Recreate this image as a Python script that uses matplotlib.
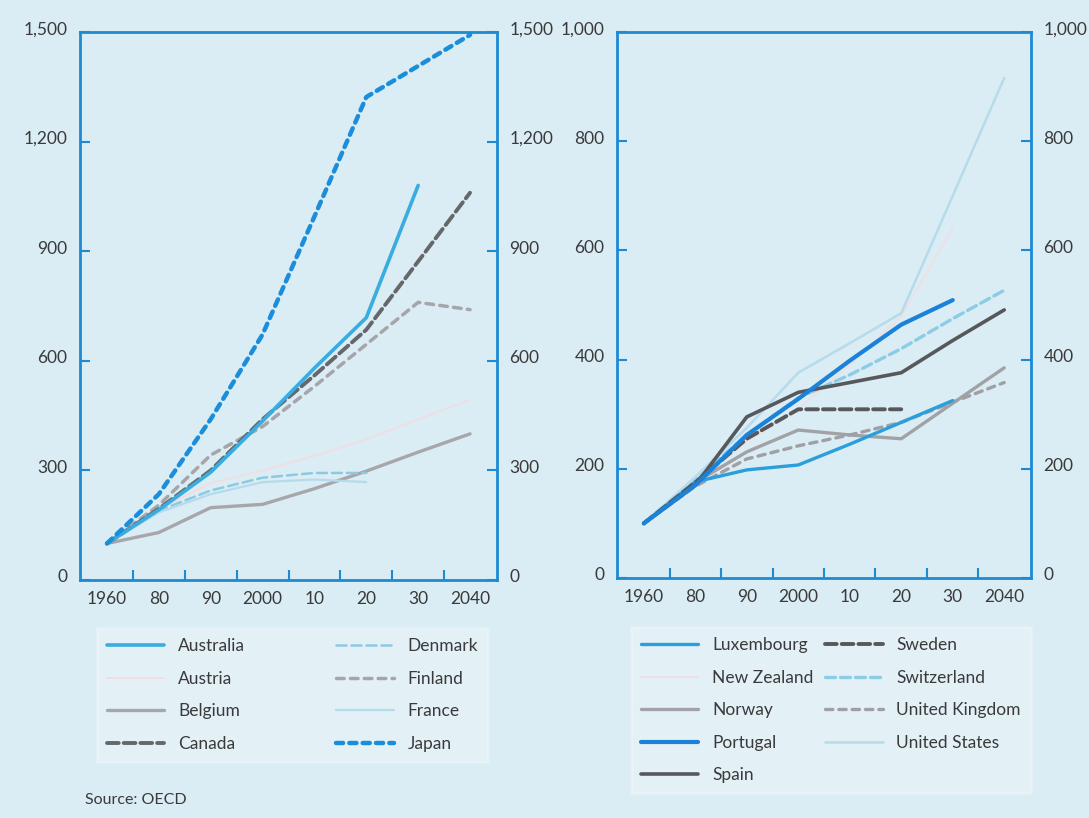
import matplotlib
matplotlib.use("Agg")
import matplotlib.pyplot as plt
import matplotlib.transforms as mtransforms
import numpy as np

plt.rcParams['font.family'] = ['Lato', 'DejaVu Sans']

# x categories (same for both panels)
years = ['1960', '80', '90', '2000', '10', '20', '30', '2040']

# left panel
australia = [100, 192, 295, 435, 580, 718, 1080]
austria = [100, 195, 265, 300, 340, 385, 440, 493]
belgium = [100, 130, 198, 207, 250, 298, 350, 400]
canada = [100, 195, 300, 440, 560, 685, 872, 1060]
denmark = [100, 190, 245, 280, 293, 293]
finland = [100, 205, 342, 420, 530, 645, 760, 740]
france = [100, 185, 235, 268, 275, 268]
japan = [100, 235, 440, 672, 995, 1322, 1407, 1492]

# right panel
luxembourg = [100, 176, 198, 207, 245, 285, 325]
new_zealand = [100, 175, 250, 310, 390, 480, 640]
norway = [100, 175, 231, 271, 262, 255, 320, 385]
portugal = [100, 170, 262, 328, 398, 464, 509]
spain = [100, 170, 295, 340, 358, 376, 435, 491]
sweden = [100, 175, 255, 309, 309, 309]
switzerland = [100, 180, 262, 330, 372, 420, 475, 527]
united_kingdom = [100, 168, 218, 242, 262, 285, 322, 358]
united_states = [100, 185, 275, 376, 430, 485, 700, 916]

left_ticks = [0, 300, 600, 900, 1200, 1500]
right_ticks = [0, 200, 400, 600, 800, 1000]

BG = '#daecf4'
SPINE = '#1d8ad2'
TXT = '#3a3a3a'
FS = 12.5

fig = plt.figure(figsize=(10.89, 8.18), dpi=100, facecolor=BG)


def style_axes(ax, ticks, top):
    ax.set_facecolor(BG)
    ax.set_xlim(-0.52, 7.52)
    ax.set_ylim(0, top)
    for s in ax.spines.values():
        s.set_color(SPINE)
        s.set_linewidth(2)
    ax.set_xticks(range(len(years)))
    ax.set_xticklabels(years)
    ax.set_xticks(np.arange(0.5, 7, 1), minor=True)
    ax.tick_params(axis='x', which='major', length=0, pad=8, labelsize=FS, labelcolor=TXT)
    ax.tick_params(axis='x', which='minor', direction='in', length=7, width=1.5, color=SPINE)
    ax.set_yticks(ticks)
    ax.set_yticklabels([f"{t:,}" for t in ticks])
    ax.tick_params(axis='y', which='major', direction='in', length=7, width=1.5, color=SPINE,
                   left=True, right=True, labelleft=True, labelright=True,
                   pad=9, labelsize=FS, labelcolor=TXT)
    # labels sit a little above their ticks in the original
    off = mtransforms.ScaledTranslation(0, 3 / 72, fig.dpi_scale_trans)
    for t in ax.yaxis.get_major_ticks():
        t.label1.set_transform(t.label1.get_transform() + off)
        t.label2.set_transform(t.label2.get_transform() + off)


def draw(ax, vals, label, color, lw, dashes=None, z=2):
    x = np.arange(len(vals))
    line, = ax.plot(x, vals, color=color, lw=lw, label=label, zorder=z,
                    solid_capstyle='round', dash_capstyle='round')
    if dashes:
        line.set_dashes(dashes)
    return line


ax1 = fig.add_axes([80 / 1089, 1 - 580 / 818, 417 / 1089, 548 / 818])
style_axes(ax1, left_ticks, 1500)
draw(ax1, australia, 'Australia', '#39ace0', 2.6, z=4)
draw(ax1, austria, 'Austria', '#f1dde3', 1.4)
draw(ax1, belgium, 'Belgium', '#a7a7ab', 2.4)
draw(ax1, canada, 'Canada', '#66676b', 2.8, dashes=(3, 1.3), z=3)
draw(ax1, denmark, 'Denmark', '#8dcae2', 1.8, dashes=(4, 2))
draw(ax1, finland, 'Finland', '#a6a6aa', 2.5, dashes=(2.2, 1.8))
draw(ax1, france, 'France', '#b4dbec', 1.6)
draw(ax1, japan, 'Japan', '#1b8edb', 3.2, dashes=(1.6, 1.4), z=5)

ax2 = fig.add_axes([617 / 1089, 1 - 578 / 818, 414 / 1089, 546 / 818])
style_axes(ax2, right_ticks, 1000)
draw(ax2, luxembourg, 'Luxembourg', '#2b9edc', 2.4, z=3)
draw(ax2, new_zealand, 'New Zealand', '#eee0e4', 1.4)
draw(ax2, norway, 'Norway', '#a2a2a6', 2.4)
draw(ax2, portugal, 'Portugal', '#1a82d8', 3.0, z=5)
draw(ax2, spain, 'Spain', '#57585c', 2.6, z=4)
draw(ax2, sweden, 'Sweden', '#57585c', 2.8, dashes=(3, 1.3), z=3)
draw(ax2, switzerland, 'Switzerland', '#8ccde6', 2.4, dashes=(3, 1.5))
draw(ax2, united_kingdom, 'United Kingdom', '#a0a0a4', 2.4, dashes=(2.2, 1.8))
draw(ax2, united_states, 'United States', '#b6dcec', 1.8)

leg_kw = dict(ncol=2, mode='expand', loc='upper left', fontsize=FS, handlelength=3.3,
              handletextpad=0.8, labelspacing=0.95, borderpad=0.6, fancybox=False,
              labelcolor=TXT, bbox_transform=fig.transFigure)
for ax, box in [(ax1, (88, 619, 409)), (ax2, (622, 618, 418))]:
    x0, y0, w = box
    leg = ax.legend(bbox_to_anchor=(x0 / 1089, 1 - y0 / 818, w / 1089, 0), **leg_kw)
    fr = leg.get_frame()
    fr.set_facecolor('white')
    fr.set_alpha(0.25)
    fr.set_edgecolor('white')
    fr.set_linewidth(2)
    leg.set_zorder(10)

fig.text(85 / 1089, 1 - 800 / 818, 'Source: OECD', fontsize=11.5, color=TXT, va='center')

fig.savefig('out.png', dpi=100, facecolor=BG)
